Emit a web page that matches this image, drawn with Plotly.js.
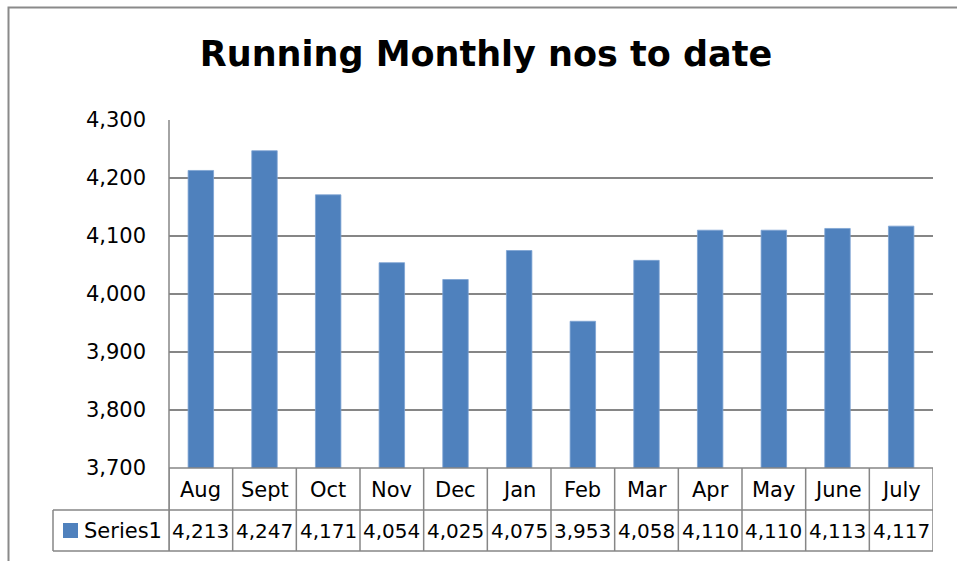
<!DOCTYPE html>
<html>
<head>
<meta charset="utf-8">
<script src="https://cdn.plot.ly/plotly-3.0.1.min.js"></script>
<style>
  html, body { margin: 0; padding: 0; background: #ffffff; }
  #chart { width: 957px; height: 561px; }
</style>
</head>
<body>
<div id="chart"></div>
<script>
const categories = ["Aug", "Sept", "Oct", "Nov", "Dec", "Jan", "Feb", "Mar", "Apr", "May", "June", "July"];
const series1 = [4213, 4247, 4171, 4054, 4025, 4075, 3953, 4058, 4110, 4110, 4113, 4117];
const seriesName = "Series1";
const chartTitle = "Running Monthly nos to date";
const yTicks = [3700, 3800, 3900, 4000, 4100, 4200, 4300];

const W = 957, H = 561;
const M = { l: 169, r: 24, t: 120, b: 93 };
const pw = W - M.l - M.r, ph = H - M.t - M.b;
const px = v => (v - M.l) / pw;           // pixel x -> paper
const py = v => (H - M.b - v) / ph;       // pixel y -> paper

const FONT = "DejaVu Sans, Verdana, sans-serif";
const GRID = "#868686";
const BLUE = "#4F81BD";
const fmt = n => n.toLocaleString("en-US");

const shapes = [];
const annotations = [];

// outer chart border (extends beyond the picture right and bottom)
shapes.push({ type: "rect", xref: "paper", yref: "paper",
  x0: px(8.5), x1: px(990), y0: py(600), y1: py(7.5),
  line: { color: "#8a8a8a", width: 2 }, fillcolor: "rgba(0,0,0,0)" });

// data table horizontal lines
shapes.push({ type: "line", xref: "paper", yref: "paper", x0: 0, x1: 1, y0: 0, y1: 0, line: { color: GRID, width: 1.5 } });
shapes.push({ type: "line", xref: "paper", yref: "paper", x0: px(53), x1: 1, y0: py(510), y1: py(510), line: { color: GRID, width: 1.5 } });
shapes.push({ type: "line", xref: "paper", yref: "paper", x0: px(53), x1: 1, y0: py(551), y1: py(551), line: { color: GRID, width: 1.5 } });
// legend cell left edge
shapes.push({ type: "line", xref: "paper", yref: "paper", x0: px(53), x1: px(53), y0: py(510), y1: py(551), line: { color: GRID, width: 1.5 } });
// left axis line extended through table
shapes.push({ type: "line", xref: "paper", yref: "paper", x0: 0, x1: 0, y0: py(551), y1: 1, line: { color: GRID, width: 1.5 } });
// column separators
for (let i = 0; i <= categories.length; i++) {
  shapes.push({ type: "line", xref: "x", yref: "paper", x0: i - 0.5, x1: i - 0.5, y0: py(551), y1: 0, line: { color: GRID, width: 1.5 } });
}
// legend key
shapes.push({ type: "rect", xref: "paper", yref: "paper", x0: px(63), x1: px(78), y0: py(538), y1: py(523),
  line: { width: 0 }, fillcolor: BLUE });

categories.forEach((c, i) => {
  annotations.push({ xref: "x", yref: "paper", x: i, y: py(490), text: c, showarrow: false,
    xanchor: "center", yanchor: "middle", font: { family: FONT, size: 21, color: "#000" } });
  annotations.push({ xref: "x", yref: "paper", x: i, y: py(531), text: fmt(series1[i]), showarrow: false,
    xanchor: "center", yanchor: "middle", font: { family: FONT, size: 20, color: "#000" } });
});
annotations.push({ xref: "paper", yref: "paper", x: px(82), y: py(531), text: seriesName, showarrow: false,
  xanchor: "left", yanchor: "middle", font: { family: FONT, size: 21, color: "#000" } });

const trace = {
  type: "bar", x: categories, y: series1, name: seriesName,
  marker: { color: BLUE, line: { color: "#7ea3d3", width: 0.8 } },
  hoverinfo: "x+y"
};

const layout = {
  width: W, height: H,
  margin: M,
  paper_bgcolor: "#ffffff", plot_bgcolor: "#ffffff",
  showlegend: false,
  bargap: 0.6,
  title: { text: "<b>" + chartTitle + "</b>", x: 486 / W, xanchor: "center", xref: "container",
    y: 1 - 54 / H, yanchor: "middle", yref: "container",
    font: { family: FONT, size: 35, color: "#000" } },
  xaxis: { type: "category", showticklabels: false, showgrid: false, zeroline: false, showline: false, ticks: "",
    range: [-0.5, categories.length - 0.5] },
  yaxis: { range: [3700, 4300], tickvals: yTicks, tickformat: ",", showgrid: true, gridcolor: GRID, gridwidth: 1.5,
    zeroline: false, showline: false, ticks: "", ticklabelstandoff: 22,
    tickfont: { family: FONT, size: 21, color: "#000" } },
  shapes: shapes,
  annotations: annotations
};

Plotly.newPlot("chart", [trace], layout, { displayModeBar: false, staticPlot: true });
</script>
</body>
</html>
